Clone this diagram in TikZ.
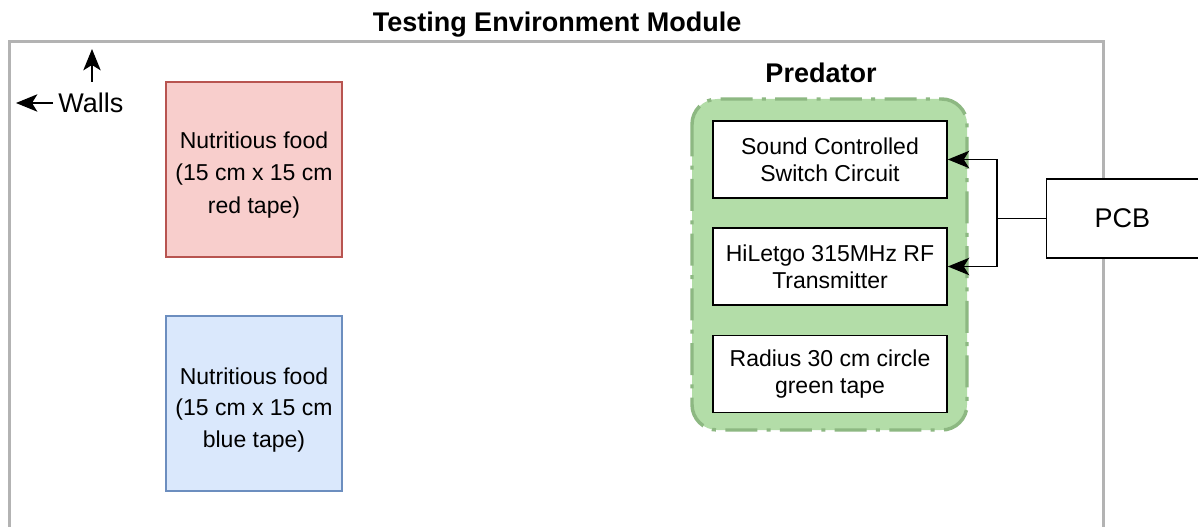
\documentclass[tikz,border=0pt]{standalone}
\usepackage{fontspec}
\setmainfont{Liberation Sans}
\usetikzlibrary{arrows.meta}
\definecolor{wallgray}{HTML}{B3B3B3}
\definecolor{redfill}{HTML}{F8CECC}
\definecolor{redline}{HTML}{B85450}
\definecolor{bluefill}{HTML}{DAE8FC}
\definecolor{blueline}{HTML}{6C8EBF}
\definecolor{predfill}{HTML}{B3DDA8}
\definecolor{predline}{HTML}{8DB882}
\tikzset{
  boxtext/.style={font=\fontsize{17.25}{20.5}\selectfont, align=center},
  bigtext/.style={font=\fontsize{20.25}{24}\selectfont},
  headtext/.style={font=\bfseries\fontsize{20.25}{24}\selectfont},
  food/.style={draw, line width=1.1pt, minimum width=132pt, minimum height=131.25pt, inner sep=0pt},
  part/.style={boxtext, draw=black, fill=white, line width=1.2pt, minimum width=175.5pt, minimum height=57.75pt, inner sep=0pt},
  pointer/.style={line width=1.2pt, arrows={-Stealth[length=16pt, width=13pt, inset=4pt]}},
}
\begin{document}
\begin{tikzpicture}[x=0.75pt, y=-0.75pt]
\useasboundingbox (0,0) rectangle (1198,527);
\clip (0,0) rectangle (1198,527);
\fill[white] (0,0) rectangle (1198,527);

% walls of the testing area
\draw[wallgray, line width=2.25pt] (9,540) -- (9,42) -- (1103,42) -- (1103,540);
\node[headtext] (title) at (557,25) {Testing Environment Module};

% wall label with pointers
\node[bigtext, anchor=west, inner sep=0pt] (walls) at (58,103) {Walls};
\coordinate (wallleft) at (16,103);
\coordinate (wallup) at (92,49);
\coordinate (wl) at (53,103);
\coordinate (wu) at (92,82);
\draw[pointer] (wl) -- (wallleft);
\draw[pointer] (wu) -- (wallup);

% food patches
\node[food, fill=redfill, draw=redline] (redfood) at (254,169.5) {};
\node[boxtext] (redtext) at (254,175)
  {Nutritious food\\[4pt](15 cm x 15 cm\\[4pt]red tape)};
\node[food, fill=bluefill, draw=blueline] (bluefood) at (254,403.5) {};
\node[boxtext] (bluetext) at (254,410)
  {Nutritious food\\[3pt](15 cm x 15 cm\\[3pt]blue tape)};

% predator robot
\draw[predline, fill=predfill, line width=2.6pt, rounded corners=19pt,
      dash pattern=on 24pt off 7pt on 3pt off 7pt] (692,99) rectangle (967,430);
\node[headtext] (predator) at (821,73) {Predator};
\node[part] (sound) at (830,159.5) {Sound Controlled\\Switch Circuit};
\node[part] (rf) at (830,266.5) {HiLetgo 315MHz RF\\Transmitter};
\node[part] (circle) at (830,374) {Radius 30 cm circle\\green tape};

% control board
\node[draw=black, fill=white, line width=1.2pt, bigtext, minimum width=140pt, minimum height=59pt,
      inner sep=0pt, text width=140pt, align=left] (pcb) at (1140,218.5) {\hspace{36pt}PCB};

\coordinate (split) at (997,218.5);
\draw[line width=1.2pt] (pcb.west) -- (split);
\draw[pointer] (split) |- (sound.east);
\draw[pointer] (split) |- (rf.east);
\end{tikzpicture}
\end{document}
